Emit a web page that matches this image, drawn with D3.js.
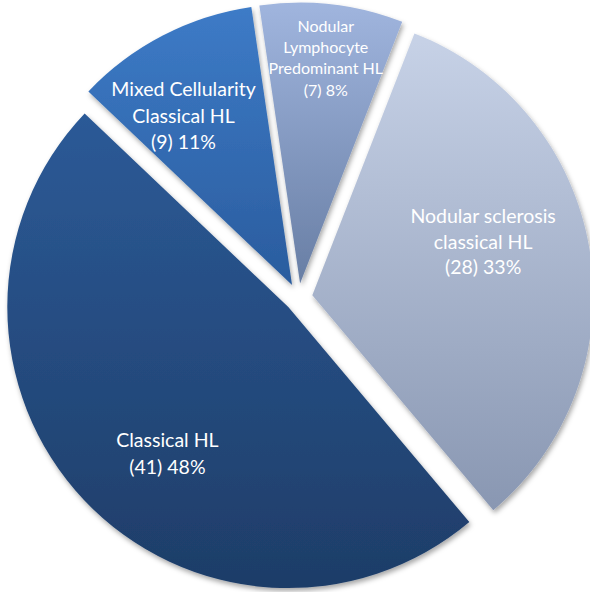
<!DOCTYPE html>
<html>
<head>
<meta charset="utf-8">
<script src="https://cdn.jsdelivr.net/npm/d3@7"></script>
<style>
  html, body { margin: 0; padding: 0; background: #ffffff; }
  svg { display: block; }
</style>
</head>
<body>
<div id="chart"></div>
<script>
// Hodgkin lymphoma subtypes (case counts)
const categories = [
  "Classical HL",
  "Mixed Cellularity Classical HL",
  "Nodular Lymphocyte Predominant HL",
  "Nodular sclerosis classical HL"
];
const counts = [41, 9, 7, 28];
const percentLabels = ["48%", "11%", "8%", "33%"];
// Label text broken into lines
const labelLines = [
  ["Classical HL"],
  ["Mixed Cellularity", "Classical HL"],
  ["Nodular", "Lymphocyte", "Predominant HL"],
  ["Nodular sclerosis", "classical HL"]
];

// Slice fills: top and bottom colours of each vertical gradient
const gradTop = ["#2c5a97", "#3d7bc7", "#a0b5de", "#c7d2e7"];
const gradBottom = ["#1e3d68", "#2a5c9e", "#687ea4", "#8997b2"];

// Label placement: angle nudge (deg), radius, font size, line height
const labelLayout = [
  { dAngle: -7.2, r: 190, size: 19.5, lh: 26.5 },
  { dAngle: -5.3, r: 201, size: 19.5, lh: 26.5 },
  { dAngle: 0, r: 227, size: 16, lh: 21.3 },
  { dAngle: -8, r: 179, size: 19.5, lh: 25.5 }
];

const W = 590, H = 592;
const cx = 298.5, cy = 297.5;
const R = 281;
const explode = 14;
const deg = Math.PI / 180;

const svg = d3.select("#chart").append("svg")
  .attr("width", W).attr("height", H);

const defs = svg.append("defs");

const shadow = defs.append("filter")
  .attr("id", "sliceShadow")
  .attr("x", "-10%").attr("y", "-10%")
  .attr("width", "125%").attr("height", "125%");
shadow.append("feDropShadow")
  .attr("dx", 1.5).attr("dy", 3)
  .attr("stdDeviation", 2.5)
  .attr("flood-color", "#000")
  .attr("flood-opacity", 0.35);

categories.forEach((c, i) => {
  const g = defs.append("linearGradient")
    .attr("id", "grad" + i)
    .attr("x1", 0).attr("y1", 0).attr("x2", 0).attr("y2", 1);
  g.append("stop").attr("offset", "0%").attr("stop-color", gradTop[i]);
  g.append("stop").attr("offset", "100%").attr("stop-color", gradBottom[i]);
});

const startA = 139.9 * deg;
const pie = d3.pie()
  .sort(null)
  .value(d => d)
  .startAngle(startA)
  .endAngle(startA + 2 * Math.PI);

const arcs = pie(counts);
const arcGen = d3.arc().innerRadius(0).outerRadius(R);

const root = svg.append("g").attr("transform", `translate(${cx},${cy})`);

const slices = root.selectAll("g.slice")
  .data(arcs)
  .join("g")
  .attr("class", "slice")
  .attr("transform", d => {
    const m = (d.startAngle + d.endAngle) / 2;
    return `translate(${explode * Math.sin(m)},${-explode * Math.cos(m)})`;
  });

slices.append("path")
  .attr("d", arcGen)
  .attr("fill", (d, i) => `url(#grad${i})`)
  .attr("filter", "url(#sliceShadow)");

slices.each(function (d, i) {
  const L = labelLayout[i];
  const m = (d.startAngle + d.endAngle) / 2 + L.dAngle * deg;
  const lx = L.r * Math.sin(m);
  const ly = -L.r * Math.cos(m);
  const lines = labelLines[i].concat([`(${counts[i]}) ${percentLabels[i]}`]);
  const n = lines.length;
  const t = d3.select(this).append("text")
    .attr("text-anchor", "middle")
    .attr("fill", "#ffffff")
    .attr("font-family", "Lato, 'Open Sans', sans-serif")
    .attr("font-size", L.size);
  lines.forEach((s, k) => {
    t.append("tspan")
      .attr("x", lx)
      .attr("y", ly + (k - (n - 1) / 2) * L.lh)
      .attr("dy", "0.35em")
      .text(s);
  });
});
</script>
</body>
</html>
